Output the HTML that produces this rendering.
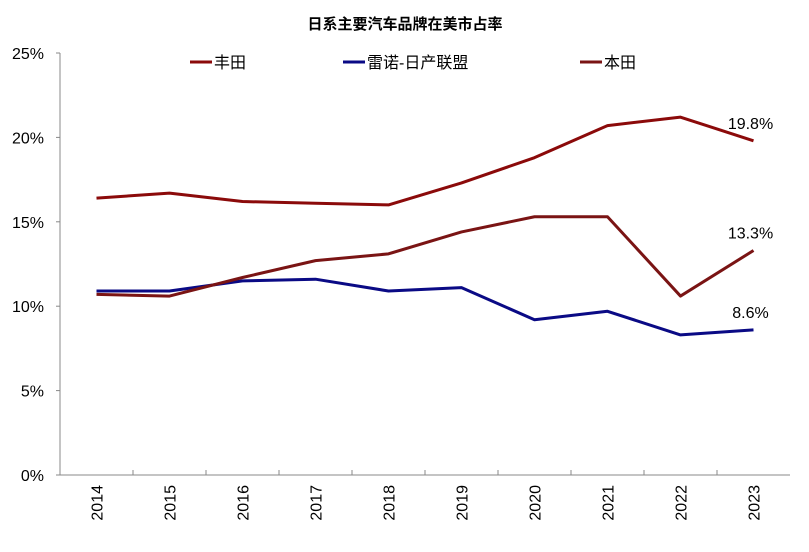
<!DOCTYPE html>
<html><head><meta charset="utf-8"><style>
body{margin:0;background:#fff;}
svg text{font-family:"Liberation Sans","Noto Sans CJK SC",sans-serif;}
</style></head><body>
<svg width="809" height="547">
<text x="405" y="29" text-anchor="middle" font-size="15" font-weight="bold">日系主要汽车品牌在美市占率</text>
<g id="legend"></g>
<g id="axes"></g>
<g id="series"></g>
</svg>
<script>
const years=["2014","2015","2016","2017","2018","2019","2020","2021","2022","2023"];
const toyota=[16.4,16.7,16.2,16.1,16.0,17.3,18.8,20.7,21.2,19.8];
const nissan=[10.9,10.9,11.5,11.6,10.9,11.1,9.2,9.7,8.3,8.6];
const honda=[10.7,10.6,11.7,12.7,13.1,14.4,15.3,15.3,10.6,13.3];
const yTicks=[0,5,10,15,20,25];
const seriesNames=["丰田","雷诺-日产联盟","本田"];
const NS="http://www.w3.org/2000/svg";
const X0=60,X1=790,Y0=475,Y1=53;
const step=(X1-X0)/years.length;
const xs=i=>X0+step*(i+0.5);
const ys=v=>Y0-(v/25)*(Y0-Y1);
function mk(t,a,p){const e=document.createElementNS(NS,t);for(const k in a)e.setAttribute(k,a[k]);p.appendChild(e);return e;}
const axes=document.getElementById('axes');
let e=mk('line',{x1:X0,y1:Y1,x2:X0,y2:Y0,stroke:'#888','stroke-width':1},axes);


e=mk('line',{x1:X0,y1:Y0,x2:X1,y2:Y0,stroke:'#888','stroke-width':1},axes);


yTicks.forEach(v=>{
 const t=mk('text',{x:X0-16,y:ys(v)+6,'text-anchor':'end','font-size':16},axes);t.textContent=v+'%';
 
 
 const l=mk('line',{x1:X0-4,y1:ys(v),x2:X0,y2:ys(v),stroke:'#888'},axes);
 
 
});
years.forEach((y,i)=>{
 if(i>0){const l=mk('line',{x1:X0+step*i,y1:Y0,x2:X0+step*i,y2:Y0-5,stroke:'#888'},axes);
 
 }
 const t=mk('text',{x:0,y:0,'text-anchor':'end','font-size':16,transform:`translate(${xs(i)+6},485) rotate(-90)`},axes);t.textContent=y;
 
 
});
const ser=document.getElementById('series');
const data=[[toyota,'#8B0A0A','toyota-line'],[nissan,'#0A0A85','nissan-line'],[honda,'#7A1414','honda-line']];
data.forEach(([d,c,n])=>{
 const p=mk('polyline',{points:d.map((v,i)=>xs(i)+','+ys(v)).join(' '),fill:'none',stroke:c,'stroke-width':3,'stroke-linejoin':'round'},ser);
 
 
 const last=d.length-1;
 const t=mk('text',{x:xs(last)-3,y:ys(d[last])-12,'text-anchor':'middle','font-size':16},ser);t.textContent=d[last].toFixed(1)+'%';
 
 
});
const leg=document.getElementById('legend');
const lx=[190,343,580];
seriesNames.forEach((s,i)=>{
 const l=mk('line',{x1:lx[i],y1:62,x2:lx[i]+22,y2:62,stroke:data[i][1],'stroke-width':3},leg);
 
 
 const t=mk('text',{x:lx[i]+24,y:68,'font-size':16},leg);t.textContent=s;
 
 
});
</script>
</body></html>
